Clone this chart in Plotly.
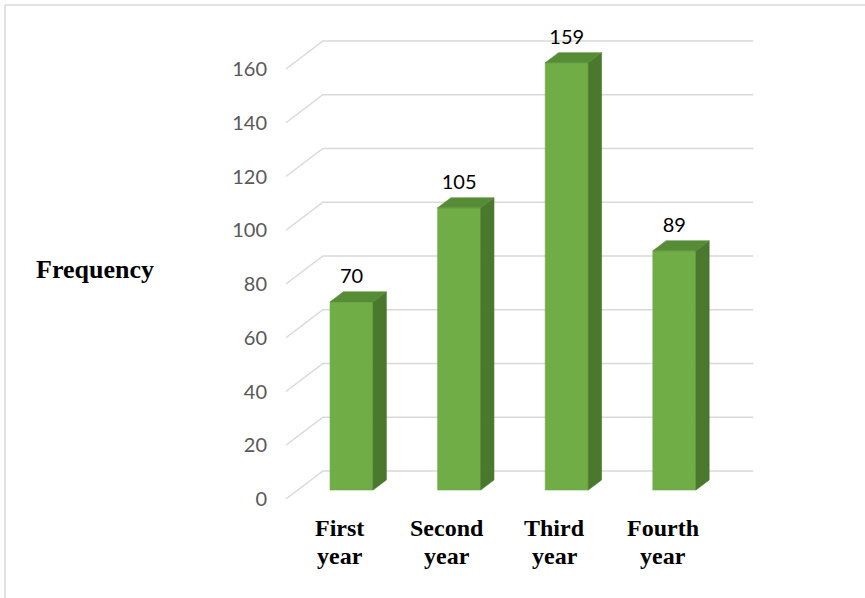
import plotly.graph_objects as go

# ---- data -------------------------------------------------------------
categories = [("First", "year"), ("Second", "year"), ("Third", "year"), ("Fourth", "year")]
frequency = [70, 105, 159, 89]
y_ticks = [0, 20, 40, 60, 80, 100, 120, 140, 160]
y_title = "Frequency"

# ---- page geometry ----------------------------------------------------
W, H = 865, 598
ML, MR, MT, MB = 280, 0, 0, 93
PX_X = 107.6          # pixels per category step
PX_Y = 2.6875         # pixels per frequency unit
ORIGIN_X = 339.7      # pixel of category 0 on the front floor edge
ORIGIN_Y = 499.0      # pixel of value 0 on the front floor edge

plot_w = W - ML - MR
plot_h = H - MT - MB
x_lo = (ML - ORIGIN_X) / PX_X
x_hi = x_lo + plot_w / PX_X
y_lo = -((H - MB) - ORIGIN_Y) / PX_Y
y_hi = y_lo + plot_h / PX_Y

# depth of the 3-D box (front floor edge -> back wall), in data units
DX = 37 / PX_X
DY = 28 / PX_Y
D_FRONT, D_BACK = 0.32, 0.68   # bar front / back planes as fraction of depth
HALF = 0.2                     # half bar width in category units

FRONT_C = "#70AD47"
SIDE_C = "#4A782C"
TOP_C = "#578C36"
GRID_C = "#D9D9D9"
CAT_FONT = dict(family="Liberation Serif", size=24, color="#000000", weight="bold")


def paper_x(px):
    return (px - ML) / plot_w


def paper_y(py):
    return ((H - MB) - py) / plot_h


fig = go.Figure()

# back-wall gridlines with their slanted side-wall segment
n = len(frequency)
for v in y_ticks:
    fig.add_trace(go.Scatter(
        x=[-0.5, -0.5 + DX, n - 0.5 + DX],
        y=[v, v + DY, v + DY],
        mode="lines", line=dict(color=GRID_C, width=1.5),
        hoverinfo="skip", showlegend=False))


def face(xs, ys, color):
    fig.add_trace(go.Scatter(
        x=xs + [xs[0]], y=ys + [ys[0]], mode="lines", fill="toself",
        fillcolor=color, line=dict(color=color, width=0.6),
        hoverinfo="skip", showlegend=False))


lab_x, lab_y = [], []
for i, v in enumerate(frequency):
    xl = i + D_FRONT * DX - HALF
    xr = i + D_FRONT * DX + HALF
    yb = D_FRONT * DY
    yt = v + D_FRONT * DY
    ddx = (D_BACK - D_FRONT) * DX
    ddy = (D_BACK - D_FRONT) * DY
    face([xl, xr, xr, xl], [yb, yb, yt, yt], FRONT_C)
    face([xr, xr + ddx, xr + ddx, xr], [yb, yb + ddy, yt + ddy, yt], SIDE_C)
    face([xl, xr, xr + ddx, xl + ddx], [yt, yt, yt + ddy, yt + ddy], TOP_C)
    lab_x.append(i + D_FRONT * DX)
    lab_y.append(v + D_BACK * DY + 14 / PX_Y)

# value labels above the bars
fig.add_trace(go.Scatter(
    x=lab_x, y=lab_y, mode="text", text=[str(v) for v in frequency],
    textposition="middle center",
    textfont=dict(family="Lato", size=20, color="#000000"),
    hoverinfo="skip", showlegend=False))

# two-line category labels under the floor
for i, (line1, line2) in enumerate(categories):
    for text, py in ((line1, 528), (line2, 556)):
        fig.add_annotation(
            x=i, y=paper_y(py), xref="x", yref="paper", text=text,
            showarrow=False, xanchor="center", yanchor="middle", font=CAT_FONT)

fig.add_annotation(
    x=paper_x(95), y=paper_y(269), xref="paper", yref="paper",
    text=y_title, showarrow=False, xanchor="center", yanchor="middle",
    font=dict(family="Liberation Serif", size=26, color="#000000", weight="bold"))

# light frame along the top and left edges
fig.add_shape(type="line", xref="paper", yref="paper",
              x0=paper_x(5), x1=paper_x(W), y0=paper_y(5), y1=paper_y(5),
              line=dict(color=GRID_C, width=1.5))
fig.add_shape(type="line", xref="paper", yref="paper",
              x0=paper_x(5), x1=paper_x(5), y0=paper_y(5), y1=paper_y(H),
              line=dict(color=GRID_C, width=1.5))

fig.update_layout(
    width=W, height=H, autosize=False,
    margin=dict(l=ML, r=MR, t=MT, b=MB, pad=0),
    paper_bgcolor="white", plot_bgcolor="white",
    xaxis=dict(range=[x_lo, x_hi], showticklabels=False,
               showgrid=False, zeroline=False, showline=False, ticks=""),
    yaxis=dict(range=[y_lo, y_hi], tickmode="array", tickvals=y_ticks,
               showgrid=False, zeroline=False, showline=False,
               ticks="", ticklabelstandoff=12,
               tickfont=dict(family="Lato", size=20, color="#595959")),
)

fig.write_html("out.html")
